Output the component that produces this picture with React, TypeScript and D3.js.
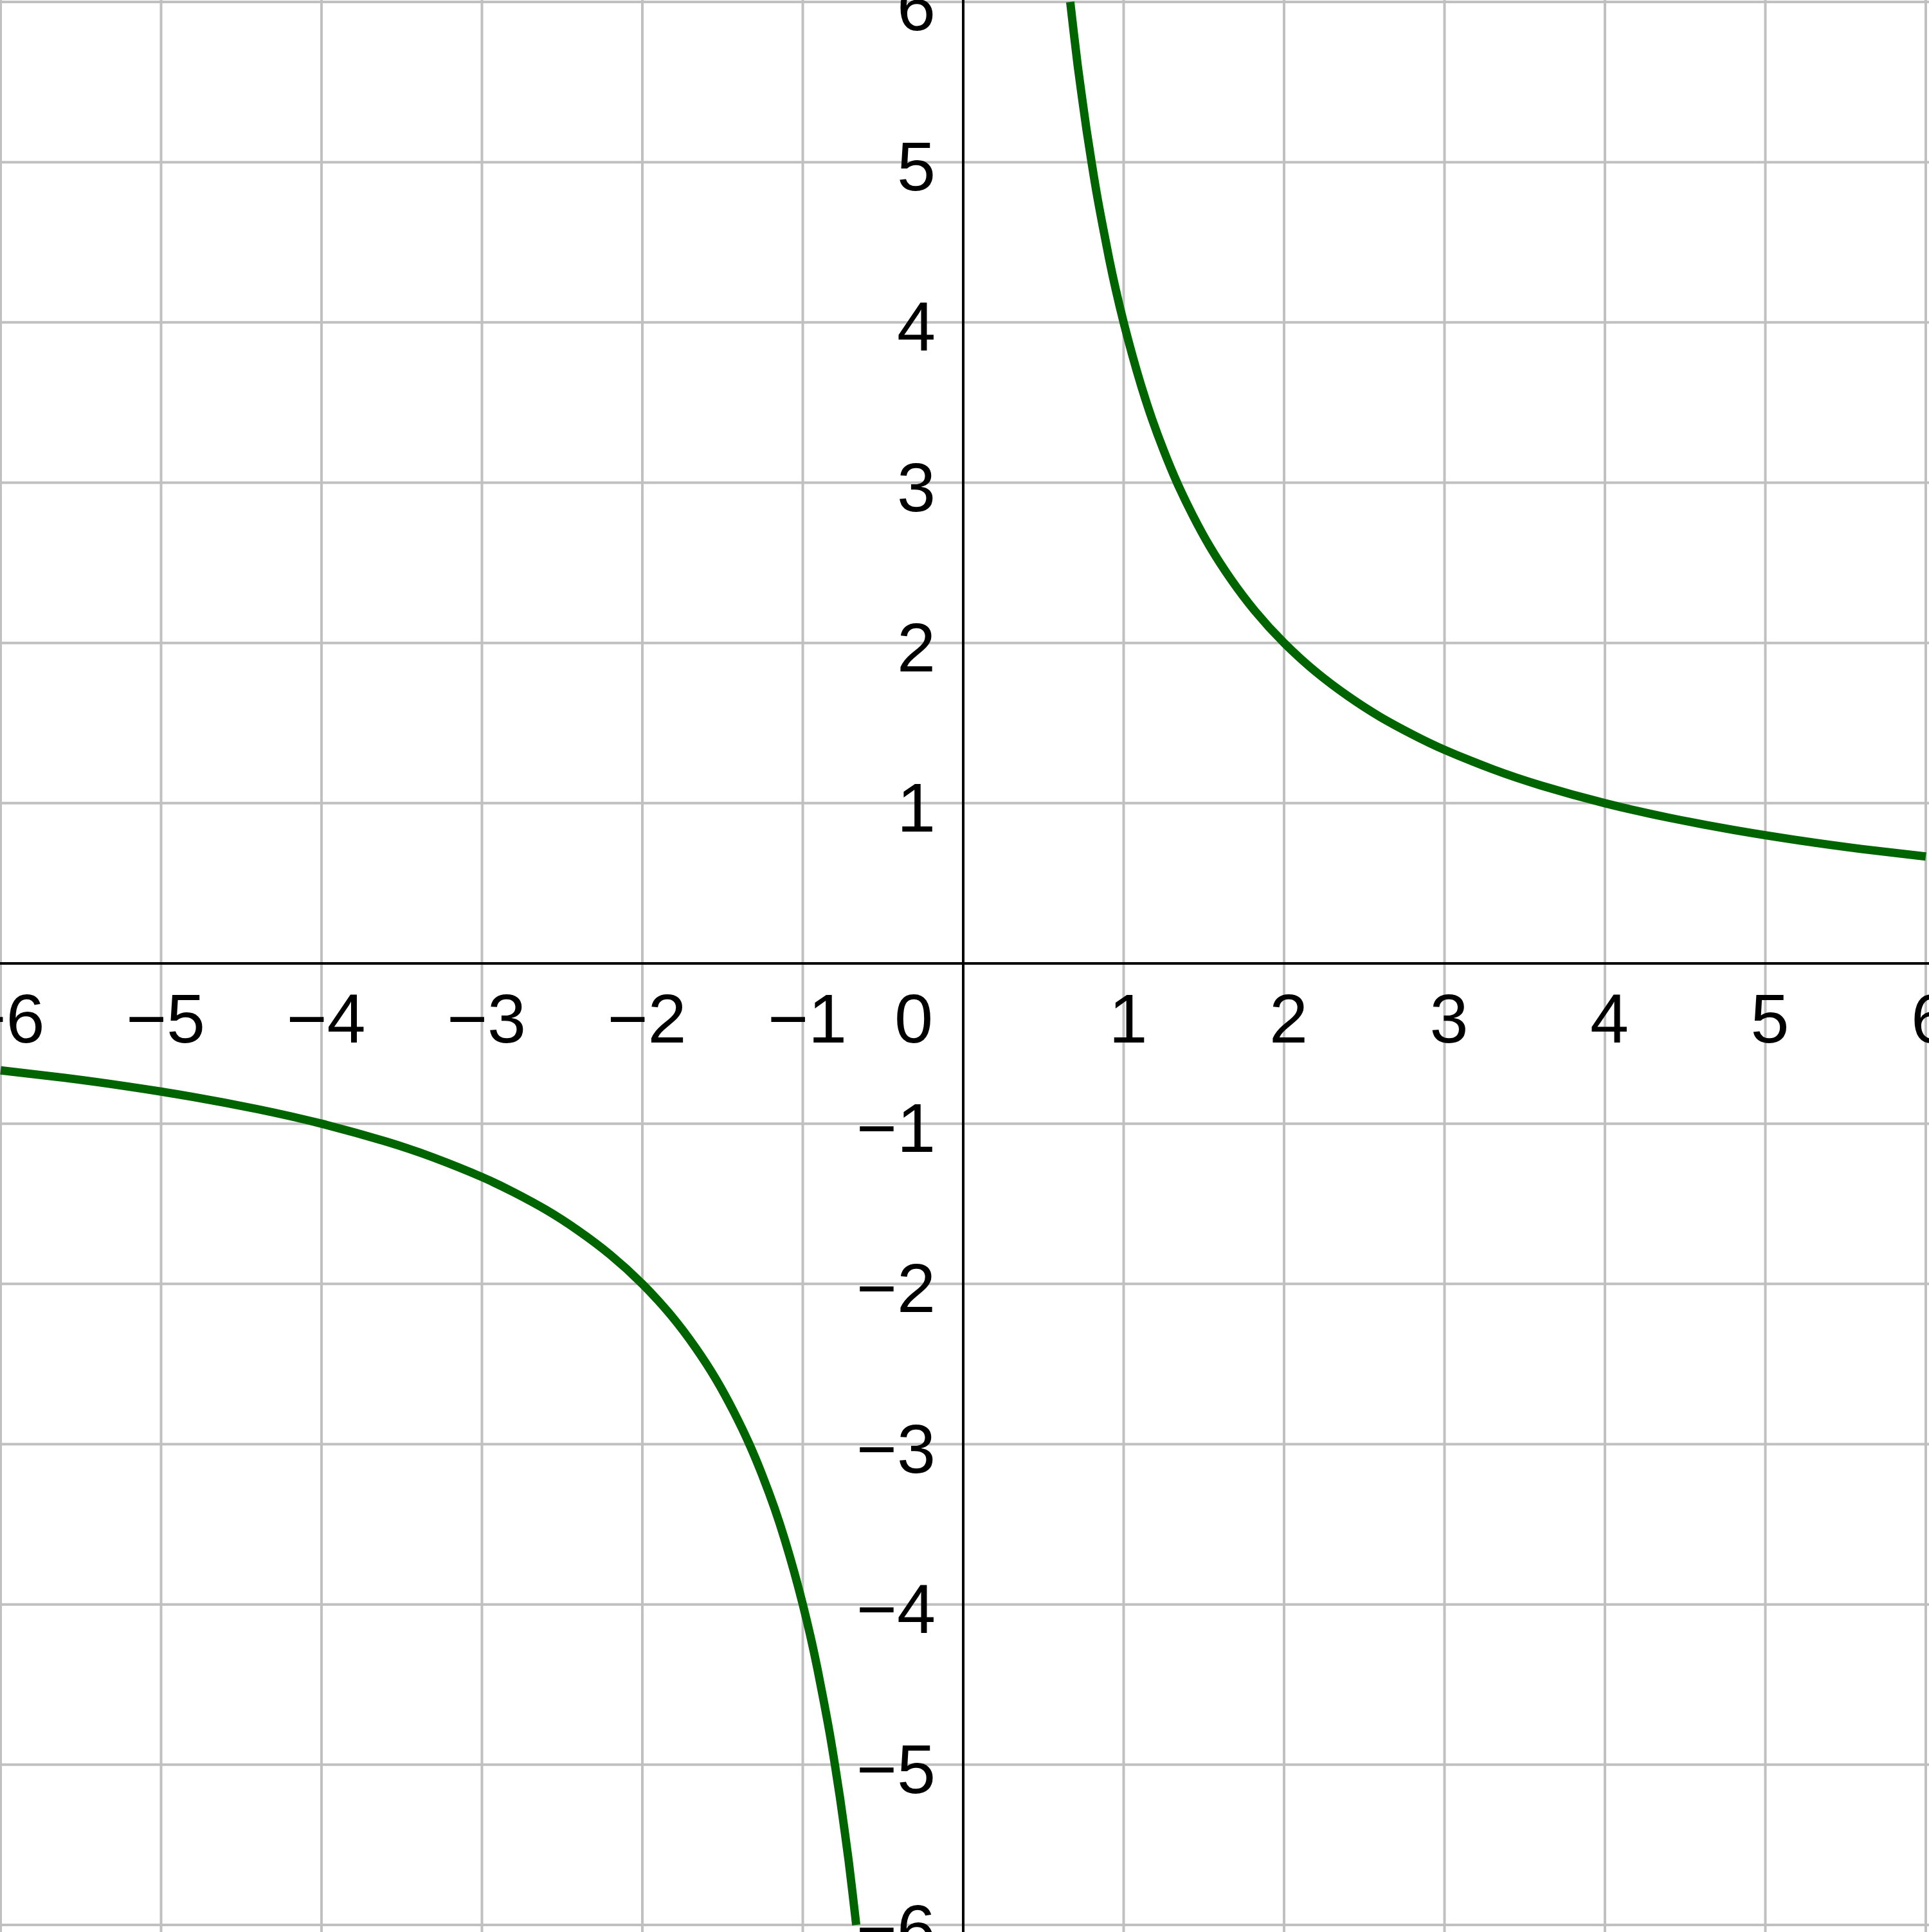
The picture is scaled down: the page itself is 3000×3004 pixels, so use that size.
import React from "react";
import * as d3 from "d3";

const W = 3000;
const H = 3004;

// Grid / tick values
const xTicks = [-6, -5, -4, -3, -2, -1, 1, 2, 3, 4, 5, 6];
const yTicks = [-6, -5, -4, -3, -2, -1, 1, 2, 3, 4, 5, 6];
const gridValues = [-6, -5, -4, -3, -2, -1, 0, 1, 2, 3, 4, 5, 6];

// Curve points (right branch, y = 4/x)
const rightX = [0.667, 0.69, 0.714, 0.741, 0.769, 0.8, 0.833, 0.87, 0.909, 0.952, 1, 1.053, 1.111, 1.176, 1.25, 1.333, 1.429, 1.538, 1.667, 1.818, 2, 2.2, 2.4, 2.6, 2.8, 3, 3.3, 3.6, 4, 4.4, 4.8, 5.2, 5.6, 6];
const rightY = [6, 5.8, 5.6, 5.4, 5.2, 5, 4.8, 4.6, 4.4, 4.2, 4, 3.8, 3.6, 3.4, 3.2, 3, 2.8, 2.6, 2.4, 2.2, 2, 1.818, 1.667, 1.538, 1.429, 1.333, 1.212, 1.111, 1, 0.909, 0.833, 0.769, 0.714, 0.667];
// Left branch
const leftX = [-6, -5.6, -5.2, -4.8, -4.4, -4, -3.6, -3.3, -3, -2.8, -2.6, -2.4, -2.2, -2, -1.818, -1.667, -1.538, -1.429, -1.333, -1.25, -1.176, -1.111, -1.053, -1, -0.952, -0.909, -0.87, -0.833, -0.8, -0.769, -0.741, -0.714, -0.69, -0.667];
const leftY = [-0.667, -0.714, -0.769, -0.833, -0.909, -1, -1.111, -1.212, -1.333, -1.429, -1.538, -1.667, -1.818, -2, -2.2, -2.4, -2.6, -2.8, -3, -3.2, -3.4, -3.6, -3.8, -4, -4.2, -4.4, -4.6, -4.8, -5, -5.2, -5.4, -5.6, -5.8, -6];

const fmt = (v: number) => (v < 0 ? "\u2212" + Math.abs(v) : String(v));

export default function App() {
  const x = d3.scaleLinear().domain([-6, 6]).range([1, 2995]);
  const y = d3.scaleLinear().domain([-6, 6]).range([2993, 3]);
  const x0 = x(0);
  const y0 = y(0);

  const line = d3
    .line<[number, number]>()
    .x((d) => x(d[0]))
    .y((d) => y(d[1]))
    .curve(d3.curveNatural);

  const right = rightX.map((v, i) => [v, rightY[i]] as [number, number]);
  const left = leftX.map((v, i) => [v, leftY[i]] as [number, number]);

  const font = "'Liberation Sans', Arial, sans-serif";
  const fs = 108;

  return (
    <svg
      width={W}
      height={H}
      style={{ position: "absolute", left: 0, top: 0, background: "#ffffff" }}
    >
      <rect x={0} y={0} width={W} height={H} fill="#ffffff" />
      <g stroke="#c0c0c0" strokeWidth={4}>
        {gridValues.map((v) => (
          <line key={"gx" + v} x1={x(v)} x2={x(v)} y1={0} y2={H} />
        ))}
        {gridValues.map((v) => (
          <line key={"gy" + v} x1={0} x2={W} y1={y(v)} y2={y(v)} />
        ))}
      </g>
      <g stroke="#000000" strokeWidth={4}>
        <line x1={0} x2={W} y1={y0} y2={y0} />
        <line x1={x0} x2={x0} y1={0} y2={H} />
      </g>
      <g fontFamily={font} fontSize={fs} fill="#000000">
        {xTicks.map((v) => (
          <text key={"tx" + v} x={x(v) + 7} y={y0 + 123} textAnchor="middle">
            {fmt(v)}
          </text>
        ))}
        {yTicks.map((v) => (
          <text key={"ty" + v} x={x0 - 43} y={y(v) + 44} textAnchor="end">
            {fmt(v)}
          </text>
        ))}
        <text x={x0 - 47} y={y0 + 123} textAnchor="end">
          0
        </text>
      </g>
      <g fill="none" stroke="#006400" strokeWidth={13} strokeLinejoin="round">
        <path d={line(right) || ""} />
        <path d={line(left) || ""} />
      </g>
    </svg>
  );
}
